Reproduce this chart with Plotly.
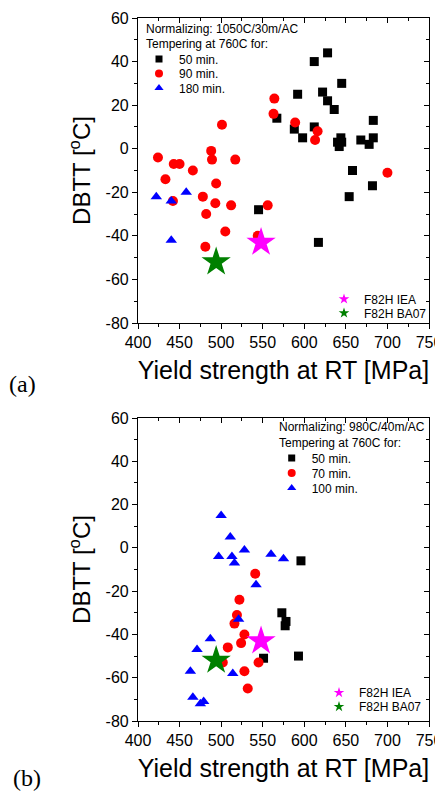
import plotly.graph_objects as go

# ---------------- Panel (a) data ----------------
a50_x = [567, 592, 588, 598, 612, 628, 622, 628, 636, 612, 645, 640, 645, 642, 644, 668, 678, 683, 683, 658, 682, 654, 545, 617]
a50_y = [14, 25, 9, 5, 40, 44, 26, 22, 18, 10, 30, 3, 3, 1, 5, 4, 2, 13, 5, -10, -17, -22, -28, -43]

a90_x = [564, 563, 589, 616, 613, 700, 501, 424, 488, 489, 517, 443, 450, 433, 466, 494, 478, 493, 512, 556, 482, 442, 505, 481, 544]
a90_y = [23, 16, 12, 8, 4, -11, 11, -4, -1, -5, -5, -7, -7, -14, -10, -16, -22, -25, -26, -26, -30, -24, -38, -45, -40]

a180_x = [422, 440, 458, 440]
a180_y = [-22, -24, -20, -42]

# ---------------- Panel (b) data ----------------
b50_x = [596, 573, 578, 577, 551, 593]
b50_y = [-6, -30, -34, -36, -51, -50]

b70_x = [541, 522, 519, 516, 528, 524, 508, 502, 545, 528, 532]
b70_y = [-12, -24, -31, -35, -40, -44, -46, -53, -53, -57, -65]

b100_x = [500, 511, 497, 513, 516, 528, 560, 575, 542, 521, 487, 471, 463, 514, 466, 475, 479]
b100_y = [15, 5, -4, -4, -7, -1, -3, -5, -17, -33, -42, -47, -57, -58, -69, -72, -71]

# Reference steels (both panels)
iea_x, iea_y = [548], [-43]
ba07_x, ba07_y = [494], [-52]

# Tick labels
x_ticks = [400, 450, 500, 550, 600, 650, 700, 750]
x_ticktext = ["400", "450", "500", "550", "600", "650", "700", "750"]
x_minor = [425, 475, 525, 575, 625, 675, 725]
y_ticks = [-80, -60, -40, -20, 0, 20, 40, 60]
y_ticktext = ["-80", "-60", "-40", "-20", "0", "20", "40", "60"]
y_minor = [-70, -50, -30, -10, 10, 30, 50]

FONT = "Arial, 'Liberation Sans', sans-serif"
SERIF = "'Times New Roman', 'Liberation Serif', serif"

OFF = 8  # page body margin offset
W, H = 443 - OFF, 797 - OFF


def px(p):
    return (p - OFF) / W


def py(p):
    return 1 - (p - OFF) / H


fig = go.Figure()

RED, BLUE, MAG, GRN = "#ff0000", "#0000ff", "#ff00ff", "#008000"


def add_panel(xa, ya, series, legs):
    # data marks
    for (xs, ys, sym, size, col, name) in series:
        fig.add_trace(go.Scatter(
            x=xs, y=ys, mode="markers", name=name,
            marker=dict(symbol=sym, size=size, color=col, line=dict(width=0)),
            xaxis=xa, yaxis=ya, showlegend=False))
    for xs, ys, col, name in [(iea_x, iea_y, MAG, "F82H IEA"), (ba07_x, ba07_y, GRN, "F82H BA07")]:
        fig.add_trace(go.Scatter(
            x=xs, y=ys, mode="markers", name=name,
            marker=dict(symbol="star", size=22, color=col, line=dict(width=0)),
            xaxis=xa, yaxis=ya, showlegend=False))
    # legend entries (each in its own legend box so spacing matches)
    leg_sym = [("square", 7, "black"), ("circle", 8, RED), ("triangle-up", 8, BLUE),
               ("star", 8, MAG), ("star", 8, GRN)]
    names = [s[5] for s in series] + ["F82H IEA", "F82H BA07"]
    for (sym, size, col), name, leg in zip(leg_sym, names, legs):
        fig.add_trace(go.Scatter(
            x=[None], y=[None], mode="markers", name=name,
            marker=dict(symbol=sym, size=size, color=col, line=dict(width=0)),
            xaxis=xa, yaxis=ya, legend=leg, showlegend=True))


add_panel("x", "y", [
    (a50_x, a50_y, "square", 9, "black", "50 min."),
    (a90_x, a90_y, "circle", 10, RED, "90 min."),
    (a180_x, a180_y, "triangle-up", 10, BLUE, "180 min."),
], ["legend", "legend2", "legend3", "legend4", "legend5"])
add_panel("x2", "y2", [
    (b50_x, b50_y, "square", 9, "black", "50 min."),
    (b70_x, b70_y, "circle", 10, RED, "70 min."),
    (b100_x, b100_y, "triangle-up", 10, BLUE, "100 min."),
], ["legend6", "legend7", "legend8", "legend9", "legend10"])

# empty traces to hold mirror axes
for xa, ya in [("x3", "y3"), ("x4", "y4")]:
    fig.add_trace(go.Scatter(x=[None], y=[None], mode="markers", xaxis=xa, yaxis=ya,
                             showlegend=False, hoverinfo="skip"))

X0, X1 = px(138), px(429)
YA = [py(323), py(18)]
YB = [py(721), py(418)]


def xaxis(domain_anchor):
    return dict(domain=[X0, X1], range=[400, 750], anchor=domain_anchor, automargin=False,
                tickmode="array", tickvals=x_ticks, ticktext=x_ticktext, ticklabeloverflow="allow",
                ticks="outside", ticklen=5, tickwidth=1, tickcolor="black",
                minor=dict(tickmode="array", tickvals=x_minor, ticks="outside", ticklen=3,
                           tickcolor="black", showgrid=False),
                showline=True, linecolor="black", linewidth=1.2, showgrid=False, zeroline=False,
                tickfont=dict(size=16, family=FONT, color="black"),
                title=dict(text="Yield strength at RT [MPa]", font=dict(size=25, family=FONT, color="black"),
                           standoff=11))


def yaxis(domain, anchor):
    return dict(domain=domain, range=[-80, 60], anchor=anchor, automargin=False,
                tickmode="array", tickvals=y_ticks, ticktext=y_ticktext, ticklabeloverflow="allow",
                ticks="outside", ticklen=5, tickwidth=1, tickcolor="black",
                minor=dict(tickmode="array", tickvals=y_minor, ticks="outside", ticklen=3,
                           tickcolor="black", showgrid=False),
                showline=True, linecolor="black", linewidth=1.2, showgrid=False, zeroline=False,
                tickfont=dict(size=16, family=FONT, color="black"),
                title=dict(text="DBTT [<sup>o</sup>C]", font=dict(size=24, family=FONT, color="black"), standoff=8))


def mirror_x(over, anchor):
    return dict(overlaying=over, side="top", anchor=anchor, range=[400, 750], automargin=False,
                tickmode="array", tickvals=x_ticks, showticklabels=False,
                ticks="inside", ticklen=5, tickcolor="black",
                minor=dict(tickmode="array", tickvals=x_minor, ticks="inside", ticklen=3, tickcolor="black", showgrid=False),
                showline=True, linecolor="black", linewidth=1.2, showgrid=False, zeroline=False)


def mirror_y(over, anchor):
    return dict(overlaying=over, side="right", anchor=anchor, range=[-80, 60], automargin=False,
                tickmode="array", tickvals=y_ticks, showticklabels=False,
                ticks="inside", ticklen=5, tickcolor="black",
                minor=dict(tickmode="array", tickvals=y_minor, ticks="inside", ticklen=3, tickcolor="black", showgrid=False),
                showline=True, linecolor="black", linewidth=1.2, showgrid=False, zeroline=False)


def leg(x_marker, y_center):
    return dict(x=px(x_marker - 21), y=py(y_center), xanchor="left", yanchor="middle",
                bgcolor="rgba(0,0,0,0)", borderwidth=0,
                font=dict(size=12, family=FONT, color="black"), itemsizing="trace")


legends = {
    "legend": leg(160, 59), "legend2": leg(160, 73.5), "legend3": leg(160, 88),
    "legend4": leg(345, 299), "legend5": leg(345, 313),
    "legend6": leg(292.7, 458), "legend7": leg(292.7, 473), "legend8": leg(292.7, 488),
    "legend9": leg(340, 692.7), "legend10": leg(340, 706.7),
}


def note(text, x, y):
    return dict(text=text, x=px(x), y=py(y), xref="paper", yref="paper", showarrow=False,
                xanchor="left", yanchor="middle", font=dict(size=12, family=FONT, color="black"))


fig.update_layout(
    width=W, height=H,
    margin=dict(l=0, r=0, t=0, b=0),
    paper_bgcolor="white", plot_bgcolor="white",
    font=dict(family=FONT, color="black"),
    xaxis=xaxis("y"), yaxis=yaxis(YA, "x"),
    xaxis2=xaxis("y2"), yaxis2=yaxis(YB, "x2"),
    xaxis3=mirror_x("x", "y"), yaxis3=mirror_y("y", "x"),
    xaxis4=mirror_x("x2", "y2"), yaxis4=mirror_y("y2", "x2"),
    annotations=[
        note("Normalizing: 1050C/30m/AC", 144, 29),
        note("Tempering at 760C for:", 144, 43.5),
        note("Normalizing: 980C/40m/AC", 276.7, 426.7),
        note("Tempering at 760C for:", 276.7, 442.7),
        dict(text="(a)", x=px(22.5), y=py(384), xref="paper", yref="paper", showarrow=False,
             font=dict(size=24, family=SERIF, color="black"), xanchor="center", yanchor="middle"),
        dict(text="(b)", x=px(26.7), y=py(778), xref="paper", yref="paper", showarrow=False,
             font=dict(size=24, family=SERIF, color="black"), xanchor="center", yanchor="middle"),
    ],
    **legends,
)

fig.write_html("out.html")
